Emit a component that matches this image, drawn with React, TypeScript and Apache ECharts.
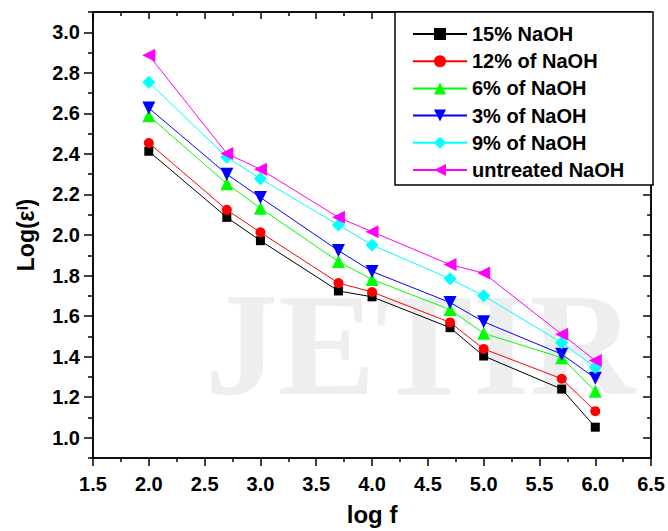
import React, { useEffect, useRef } from "react";
import * as echarts from "echarts";

const logF = [2.0, 2.699, 3.0, 3.699, 4.0, 4.699, 5.0, 5.699, 6.0];
const naoh15 = [2.413, 2.087, 1.972, 1.724, 1.695, 1.543, 1.403, 1.24, 1.052];
const naoh12 = [2.454, 2.124, 2.013, 1.763, 1.719, 1.569, 1.438, 1.291, 1.131];
const naoh6 = [2.588, 2.253, 2.132, 1.869, 1.781, 1.632, 1.515, 1.395, 1.229];
const naoh3 = [2.626, 2.3, 2.185, 1.923, 1.82, 1.667, 1.572, 1.412, 1.294];
const naoh9 = [2.753, 2.384, 2.278, 2.049, 1.951, 1.784, 1.7, 1.469, 1.347];
const untreated = [2.887, 2.402, 2.324, 2.087, 2.016, 1.854, 1.812, 1.51, 1.381];

const seriesNames = ["15% NaOH", "12% of NaOH", "6% of NaOH", "3% of NaOH", "9% of NaOH", "untreated NaOH"];
const seriesData = [naoh15, naoh12, naoh6, naoh3, naoh9, untreated];
const seriesColors = ["#000000", "#ff0000", "#00ff00", "#0000ff", "#00ffff", "#ff00ff"];
const seriesSymbols = ["rect", "circle", "triangle", "triangle", "diamond", "triangle"];
const symbolRotations = [0, 0, 0, 180, 0, 90];
const symbolSizes = [9, 10, 13, 13, 13, 13];

const yMajor = [1.0, 1.2, 1.4, 1.6, 1.8, 2.0, 2.2, 2.4, 2.6, 2.8, 3.0];
const yMinor = [0.9, 1.1, 1.3, 1.5, 1.7, 1.9, 2.1, 2.3, 2.5, 2.7, 2.9, 3.1];

const FONT = "'Liberation Sans', Arial, sans-serif";

export default function App() {
  const ref = useRef<HTMLDivElement>(null);
  useEffect(() => {
    if (!ref.current) return;
    const chart = echarts.init(ref.current, null, { renderer: "svg" });
    const labelStyle = { color: "#000", fontFamily: FONT, fontWeight: "bold" as const, fontSize: 20 };
    const yCommon = { type: "value" as const, min: 0.9, max: 3.1, splitLine: { show: false } };
    const ax = { color: "#000", width: 1.5 };
    chart.setOption({
      animation: false,
      backgroundColor: "#fff",
      grid: { left: 93, right: 15, top: 12, bottom: 71, show: true, borderColor: "#000", borderWidth: 1.5 },
      graphic: [
        {
          type: "text",
          left: 205,
          top: 272,
          z: -10,
          silent: true,
          style: { text: "JETIR", font: "bold 146px 'Liberation Serif', serif", fill: "#eceef0" },
        },
        {
          type: "rect",
          shape: { x: 395, y: 12, width: 258, height: 173 },
          z: 50,
          style: { fill: "#fff", stroke: "#000", lineWidth: 1.5 },
        },
      ],
      legend: {
        orient: "vertical",
        left: 412,
        top: 24,
        padding: 0,
        itemWidth: 54,
        itemHeight: 15,
        itemGap: 7.2,
        z: 60,
        textStyle: { color: "#000", fontFamily: FONT, fontWeight: "bold", fontSize: 20 },
        data: seriesNames,
      },
      xAxis: [
        {
          type: "value",
          position: "bottom",
          min: 1.5,
          max: 6.5,
          interval: 0.5,
          name: "log f",
          nameLocation: "middle",
          nameGap: 44,
          nameTextStyle: { color: "#000", fontFamily: FONT, fontWeight: "bold", fontSize: 24 },
          axisLine: { lineStyle: ax },
          axisTick: { length: 8, lineStyle: ax },
          minorTick: { show: true, splitNumber: 2, length: 4, lineStyle: ax },
          axisLabel: { ...labelStyle, margin: 16, formatter: (v: number) => v.toFixed(1) },
          splitLine: { show: false },
        },
        {
          type: "value",
          position: "top",
          min: 1.5,
          max: 6.5,
          interval: 0.5,
          axisLine: { lineStyle: ax },
          axisTick: { inside: true, length: 7, lineStyle: ax },
          minorTick: { show: true, splitNumber: 2, length: 4, lineStyle: ax },
          axisLabel: { show: false },
          splitLine: { show: false },
        },
      ],
      yAxis: [
        {
          ...yCommon,
          position: "left",
          name: "Log(εⁱ)",
          nameLocation: "middle",
          nameGap: 56,
          nameTextStyle: { color: "#000", fontFamily: FONT, fontWeight: "bold", fontSize: 23 },
          axisLine: { show: true, lineStyle: ax },
          axisTick: { show: true, length: 9, customValues: yMajor, lineStyle: ax },
          axisLabel: { ...labelStyle, margin: 13, customValues: yMajor, formatter: (v: number) => v.toFixed(1) },
        },
        {
          ...yCommon,
          position: "left",
          axisLine: { show: false },
          axisTick: { show: true, length: 5, customValues: yMinor, lineStyle: ax },
          axisLabel: { show: false, customValues: yMinor },
        },
        {
          ...yCommon,
          position: "right",
          axisLine: { show: true, lineStyle: ax },
          axisTick: { show: true, inside: true, length: 8, customValues: yMajor, lineStyle: ax },
          axisLabel: { show: false, customValues: yMajor },
        },
        {
          ...yCommon,
          position: "right",
          axisLine: { show: false },
          axisTick: { show: true, inside: true, length: 4, customValues: yMinor, lineStyle: ax },
          axisLabel: { show: false, customValues: yMinor },
        },
      ],
      series: seriesNames.map((name, i) => ({
        name,
        type: "line",
        xAxisIndex: 0,
        yAxisIndex: 0,
        data: logF.map((x, j) => [x, seriesData[i][j]]),
        symbol: seriesSymbols[i],
        symbolSize: symbolSizes[i],
        symbolRotate: symbolRotations[i],
        showAllSymbol: true,
        color: seriesColors[i],
        itemStyle: { color: seriesColors[i] },
        lineStyle: { color: seriesColors[i], width: 1 },
        z: 5,
      })),
    });
    return () => chart.dispose();
  }, []);
  return <div ref={ref} style={{ width: 668, height: 531, position: "absolute", left: 0, top: 0 }} />;
}
